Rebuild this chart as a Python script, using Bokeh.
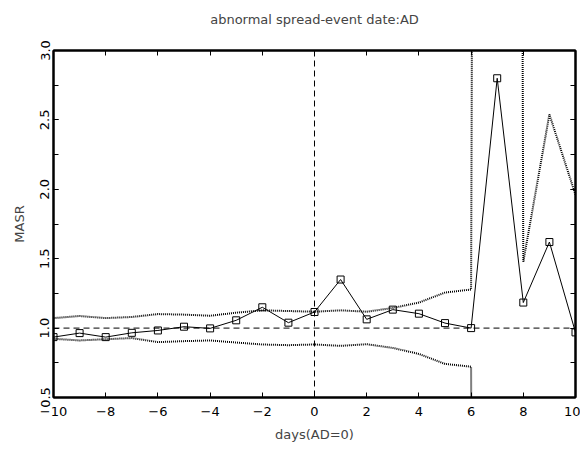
from bokeh.plotting import figure
from bokeh.models import Range1d, LinearAxis, SingleIntervalTicker, Span, CustomJSTickFormatter, PrintfTickFormatter
from bokeh.embed import file_html
from bokeh.resources import INLINE

days = [-10, -9, -8, -7, -6, -5, -4, -3, -2, -1, 0, 1, 2, 3, 4, 5, 6, 7, 8, 9, 10]
masr = [0.935, 0.964, 0.935, 0.966, 0.983, 1.01, 0.998, 1.056, 1.15, 1.039, 1.116,
        1.35, 1.063, 1.133, 1.104, 1.036, 1.0, 2.80, 1.184, 1.62, 0.969]
upper = [1.072, 1.087, 1.072, 1.08, 1.101, 1.097, 1.089, 1.111, 1.128, 1.123, 1.118,
         1.128, 1.118, 1.145, 1.184, 1.256, 1.278, 60.0, 1.478, 2.54, 1.96]
lower = [0.923, 0.911, 0.92, 0.928, 0.899, 0.906, 0.911, 0.896, 0.882, 0.877, 0.882,
         0.872, 0.884, 0.857, 0.814, 0.742, 0.722, -60.0, 0.3, -0.6, 0.1]

FONT = "DejaVu Sans"

p = figure(width=580, height=446, output_backend="svg", toolbar_location=None,
           x_range=Range1d(-10, 10), y_range=Range1d(0.5, 3.0),
           title="abnormal spread-event date:AD\n",
           x_axis_label="days(AD=0)", y_axis_label="MASR",
           min_border_left=53, min_border_right=5, min_border_top=0, min_border_bottom=49)
p.grid.visible = False
p.outline_line_color = "black"
p.outline_line_width = 2
p.background_fill_color = "white"
p.border_fill_color = "white"

p.title.align = "center"
p.title.text_font = FONT
p.title.text_font_style = "normal"
p.title.text_font_size = "13px"
p.title.standoff = 18

def style(ax):
    ax.axis_line_width = 2
    ax.axis_line_color = "black"
    ax.major_tick_in = 5
    ax.major_tick_out = 0
    ax.minor_tick_in = 5
    ax.minor_tick_out = 0
    ax.major_tick_line_color = "black"
    ax.minor_tick_line_color = "black"
    ax.major_label_text_font = FONT
    ax.major_label_text_font_size = "13px"
    ax.major_label_text_color = "black"
    ax.axis_label_text_font = FONT
    ax.axis_label_text_font_size = "13px"
    ax.axis_label_text_font_style = "normal"

xa = p.xaxis[0]
xa.ticker = SingleIntervalTicker(interval=2, num_minor_ticks=0)
style(xa)
xa.major_label_standoff = 9
xa.axis_label_standoff = 8

ya = p.yaxis[0]
ya.ticker = SingleIntervalTicker(interval=0.5, num_minor_ticks=2)
ya.formatter = PrintfTickFormatter(format="%.1f")
style(ya)
ya.major_label_orientation = "parallel"
ya.major_label_standoff = 4
ya.axis_label_standoff = 11

blank = CustomJSTickFormatter(code="return ''")
top = LinearAxis(ticker=SingleIntervalTicker(interval=2, num_minor_ticks=0), formatter=blank)
style(top)
top.major_label_text_font_size = "0px"
top.major_label_standoff = 0
p.add_layout(top, "above")
right = LinearAxis(ticker=SingleIntervalTicker(interval=0.5, num_minor_ticks=2), formatter=blank)
style(right)
right.major_label_text_font_size = "0px"
right.major_label_standoff = 0
p.add_layout(right, "right")

p.add_layout(Span(location=1.0, dimension="width", line_color="black", line_width=1, line_dash="6 4"))
p.add_layout(Span(location=0, dimension="height", line_color="black", line_width=1, line_dash="6 4"))

p.line(days, upper, line_color="black", line_width=2, line_dash="1 1")
p.line(days, lower, line_color="black", line_width=2, line_dash="1 1")
p.line(days, masr, line_color="black", line_width=1)
p.scatter(days, masr, marker="square", size=7, fill_color=None, line_color="black", line_width=1)

open("out.html", "w").write(file_html(p, INLINE))
